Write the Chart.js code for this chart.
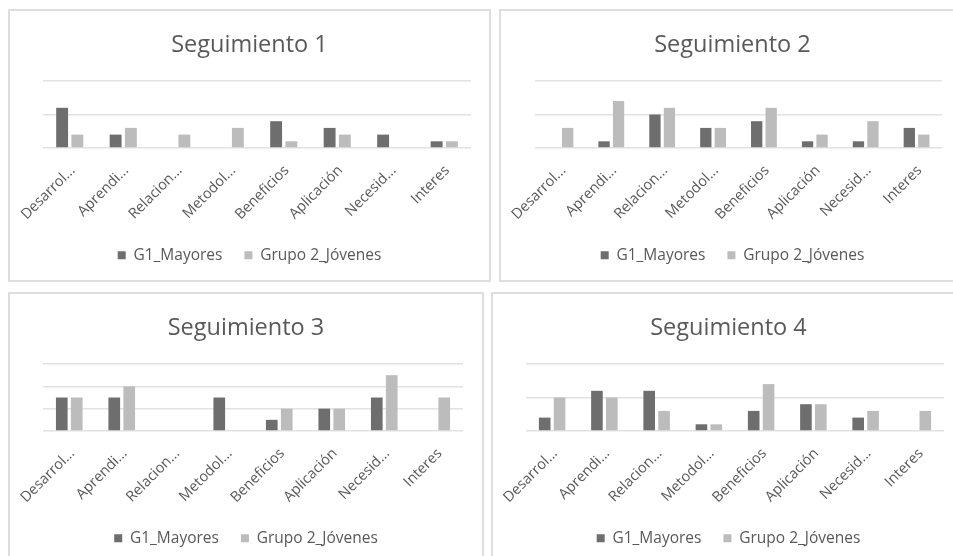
<!DOCTYPE html>
<html>
<head>
<meta charset="utf-8">
<script src="https://cdn.jsdelivr.net/npm/chart.js@4/dist/chart.umd.min.js"></script>
<style>
  html, body { margin: 0; padding: 0; background: #fff; width: 953px; height: 556px; overflow: hidden; }
  .panel { position: absolute; box-sizing: border-box; border: 2px solid #dedede; background: #fff; }
  .panel canvas { display: block; }
</style>
</head>
<body>
<div class="panel" id="p1" style="left:8px;top:9px;width:483px;height:273px;"><canvas id="c1"></canvas></div>
<div class="panel" id="p2" style="left:499px;top:9px;width:467px;height:273px;"><canvas id="c2"></canvas></div>
<div class="panel" id="p3" style="left:8px;top:292px;width:476px;height:273px;"><canvas id="c3"></canvas></div>
<div class="panel" id="p4" style="left:491px;top:292px;width:475px;height:273px;"><canvas id="c4"></canvas></div>
<script>
// ---- data ----
const categories = ["Desarrol...", "Aprendi...", "Relacion...", "Metodol...", "Beneficios", "Aplicación", "Necesid...", "Interes"];
const seriesNames = ["G1_Mayores", "Grupo 2_Jóvenes"];
const titles = ["Seguimiento 1", "Seguimiento 2", "Seguimiento 3", "Seguimiento 4"];

const s1_g1 = [6, 2, 0, 0, 4, 3, 2, 1];
const s1_g2 = [2, 3, 2, 3, 1, 2, 0, 1];
const s2_g1 = [0, 1, 5, 3, 4, 1, 1, 3];
const s2_g2 = [3, 7, 6, 3, 6, 2, 4, 2];
const s3_g1 = [3, 3, 0, 3, 1, 2, 3, 0];
const s3_g2 = [3, 4, 0, 0, 2, 2, 5, 3];
const s4_g1 = [2, 6, 6, 1, 3, 4, 2, 0];
const s4_g2 = [5, 5, 3, 1, 7, 4, 3, 3];

const yMax = [10, 10, 6, 10];
const yStep = [5, 5, 2, 5];

// ---- styling ----
const FONT = "'Open Sans', 'Noto Sans', sans-serif";
const TEXT = '#595959';
const C_G1 = '#6e6e6e';
const C_G2 = '#bcbcbc';
const GRID = '#e2e2e2';

const panels = [
  { id: 'c1', box: 'p1', g1: s1_g1, g2: s1_g2, padL: 33, padR: 18 },
  { id: 'c2', box: 'p2', g1: s2_g1, g2: s2_g2, padL: 34, padR: 22 },
  { id: 'c3', box: 'p3', g1: s3_g1, g2: s3_g2, padL: 33, padR: 19 },
  { id: 'c4', box: 'p4', g1: s4_g1, g2: s4_g2, padL: 33, padR: 20 }
];

panels.forEach((p, i) => {
  const box = document.getElementById(p.box);
  const cv = document.getElementById(p.id);
  const w = box.clientWidth, h = box.clientHeight;
  cv.width = w; cv.height = h;
  cv.style.width = w + 'px'; cv.style.height = h + 'px';
  new Chart(cv, {
    type: 'bar',
    data: {
      labels: categories,
      datasets: [
        { label: seriesNames[0], data: p.g1, backgroundColor: C_G1, borderWidth: 0,
          categoryPercentage: 0.57, barPercentage: 0.78, yAxisID: 'y' },
        { label: seriesNames[1], data: p.g2, backgroundColor: C_G2, borderWidth: 0,
          categoryPercentage: 0.57, barPercentage: 0.78, yAxisID: 'y' }
      ]
    },
    options: {
      responsive: false,
      animation: false,
      devicePixelRatio: 1,
      layout: { padding: { left: 0, right: 0, top: 0, bottom: 7 } },
      plugins: {
        title: {
          display: true, text: titles[i], color: TEXT,
          font: { family: FONT, size: 23.5, weight: 'normal' },
          padding: { top: 20, bottom: 21.8 }
        },
        legend: {
          display: true, position: 'bottom',
          labels: {
            color: TEXT, boxWidth: 8, boxHeight: 8, padding: 22,
            font: { family: FONT, size: 15.5 }
          }
        },
        tooltip: { enabled: false }
      },
      scales: {
        x: {
          grid: { display: false },
          border: { display: false },
          ticks: {
            color: TEXT, font: { family: FONT, size: 14.5 }, padding: 6,
            minRotation: 45, maxRotation: 45, autoSkip: false, labelOffset: 3
          },
          afterFit: (s) => { s.height = 77.5; }
        },
        y: {
          position: 'left',
          min: 0, max: yMax[i],
          ticks: { display: false, stepSize: yStep[i] },
          grid: { color: GRID, lineWidth: 1.5, drawTicks: false },
          border: { display: false },
          afterFit: (s) => { s.width = p.padL; }
        },
        yR: {
          position: 'right',
          min: 0, max: yMax[i],
          ticks: { display: false },
          grid: { display: false, drawTicks: false },
          border: { display: false },
          afterFit: (s) => { s.width = p.padR; }
        }
      }
    }
  });
});
</script>
</body>
</html>
